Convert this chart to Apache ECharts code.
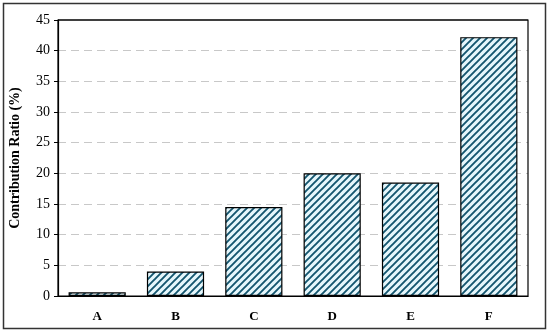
<!DOCTYPE html>
<html>
<head>
<meta charset="utf-8">
<script src="https://cdn.jsdelivr.net/npm/echarts@6/dist/echarts.min.js"></script>
<style>
html,body{margin:0;padding:0;background:#fff;}
#chart{width:550px;height:333px;}
</style>
</head>
<body>
<div id="chart"></div>
<script>
var categories=['A','B','C','D','E','F'];
var ratios=[0.6,4.0,14.5,20.0,18.5,42.2];

// hatch pattern for the bars
var pat=document.createElement('canvas');
pat.width=7;pat.height=7;
var ctx=pat.getContext('2d');
ctx.fillStyle='#e6f7fc';
ctx.fillRect(0,0,7,7);
ctx.strokeStyle='#14566f';
ctx.lineWidth=1.9;
ctx.beginPath();
ctx.moveTo(-1,8);ctx.lineTo(8,-1);
ctx.moveTo(-1,1);ctx.lineTo(1,-1);
ctx.moveTo(6,8);ctx.lineTo(8,6);
ctx.stroke();

var chart=echarts.init(document.getElementById('chart'));
var option={
	animation:false,
	grid:{left:58,right:22,top:20,bottom:37,show:true,borderColor:'#000',borderWidth:1.2,z:5},
	graphic:[{
		type:'rect',
		shape:{x:3.5,y:3.5,width:542,height:325},
		style:{fill:'none',stroke:'#333',lineWidth:1.5},
		silent:true
	},{
		type:'line',
		shape:{x1:58,y1:20,x2:528,y2:20},
		style:{stroke:'#000',lineWidth:1.2},
		z:100,
		silent:true
	}],
	xAxis:{
		type:'category',
		data:categories,
		axisLine:{lineStyle:{color:'#000',width:1.2}},
		axisTick:{show:false},
		axisLabel:{color:'#000',fontFamily:'Liberation Serif',fontWeight:'bold',fontSize:13,margin:14}
	},
	yAxis:{
		type:'value',
		min:0,max:45,interval:5,
		name:'Contribution Ratio (%)',
		nameLocation:'middle',
		nameGap:36,
		nameTextStyle:{color:'#000',fontFamily:'Liberation Serif',fontWeight:'bold',fontSize:14},
		axisLine:{show:true,lineStyle:{color:'#000',width:1.2}},
		axisTick:{show:true,length:4,lineStyle:{color:'#000'}},
		axisLabel:{color:'#000',fontFamily:'Liberation Serif',fontSize:14,margin:8},
		splitLine:{showMaxLine:false,lineStyle:{color:'#c8c8c8',type:[8,5],width:1}}
	},
	series:[{
		type:'bar',
		data:ratios,
		barWidth:'73%',
		itemStyle:{
			color:{image:pat,repeat:'repeat'},
			borderColor:'#000',
			borderWidth:1.2
		}
	}]
};
chart.setOption(option);
</script>
</body>
</html>
